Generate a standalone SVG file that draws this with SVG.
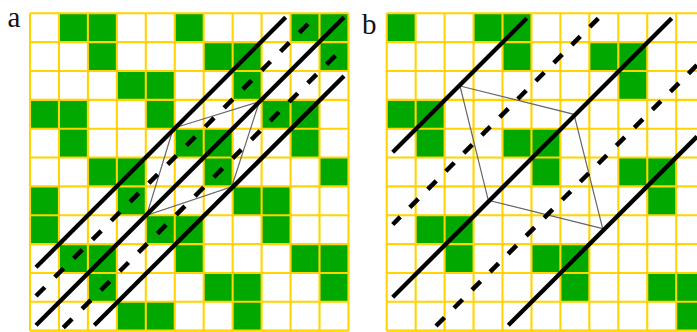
<svg xmlns="http://www.w3.org/2000/svg" width="697" height="332" viewBox="0 0 697 332">
<defs>
<style>
.cell{fill:#00a800}
.grid{fill:none;stroke:#ffd400;stroke-width:2.1;vector-effect:non-scaling-stroke}
.solid{fill:none;stroke:#000;stroke-width:4.3}
.dash-a{fill:none;stroke:#000;stroke-width:4.5;stroke-dasharray:12.4 14.2}
.dash-b{fill:none;stroke:#000;stroke-width:4.5;stroke-dasharray:12 13.5}
.thin{fill:none;stroke:#666;stroke-width:1.2}
.label{font-family:"Liberation Serif",serif;font-size:29px;fill:#111}
</style>
<path id="lattice" class="grid" d="M0 0V11M1 0V11M2 0V11M3 0V11M4 0V11M5 0V11M6 0V11M7 0V11M8 0V11M9 0V11M10 0V11M11 0V11M0 0H11M0 1H11M0 2H11M0 3H11M0 4H11M0 5H11M0 6H11M0 7H11M0 8H11M0 9H11M0 10H11M0 11H11"/>
</defs>
<rect width="697" height="332" fill="#fff"/>
<g id="panel-a">
<g transform="translate(30 13.3) scale(28.95 28.85)">
<path class="cell" d="M1 0h2v1h-2zM5 0h1v1h-1zM9 0h2v1h-2zM2 1h1v1h-1zM6 1h2v1h-2zM10 1h1v1h-1zM3 2h2v1h-2zM7 2h1v1h-1zM0 3h2v1h-2zM4 3h1v1h-1zM8 3h2v1h-2zM1 4h1v1h-1zM5 4h2v1h-2zM9 4h1v1h-1zM2 5h2v1h-2zM6 5h1v1h-1zM10 5h1v1h-1zM0 6h1v1h-1zM3 6h1v1h-1zM7 6h2v1h-2zM0 7h1v1h-1zM4 7h2v1h-2zM8 7h1v1h-1zM1 8h2v1h-2zM5 8h1v1h-1zM9 8h2v1h-2zM2 9h1v1h-1zM6 9h2v1h-2zM10 9h1v1h-1zM3 10h2v1h-2zM7 10h1v1h-1z"/>
<use href="#lattice"/>
</g>
<path class="thin" d="M173.3 128.3L259.3 101.7L231.7 186.7L146.7 215.3Z"/>
<path class="solid" d="M285.7 17.3L36 267.3M344 17.3L36 325.3M344 76L94.3 325.3"/>
<path class="dash-a" d="M36 296L308 24M63.3 327.7L338.3 52.7"/>
<text class="label" x="7.5" y="27">a</text>
</g>
<g id="panel-b">
<g transform="translate(386.7 13.3) scale(28.95 28.85)">
<path class="cell" d="M0 0h1v1h-1zM3 0h2v1h-2zM4 1h1v1h-1zM7 1h2v1h-2zM8 2h1v1h-1zM0 3h2v1h-2zM1 4h1v1h-1zM4 4h2v1h-2zM5 5h1v1h-1zM8 5h2v1h-2zM9 6h1v1h-1zM1 7h2v1h-2zM2 8h1v1h-1zM5 8h2v1h-2zM6 9h1v1h-1zM9 9h2v1h-2zM10 10h1v1h-1z"/>
<use href="#lattice"/>
</g>
<path class="thin" d="M460 86L574 114.3L602.7 228.7L488.3 200.3Z"/>
<path class="solid" d="M526.7 18.3L392.7 152.3M671.7 18.3L392.7 297.3M697 136.6L508.3 325.3"/>
<path class="dash-b" d="M598.3 18.3L392.7 224.5M436 326L697 65"/>
<text class="label" x="362" y="34">b</text>
</g>
</svg>
